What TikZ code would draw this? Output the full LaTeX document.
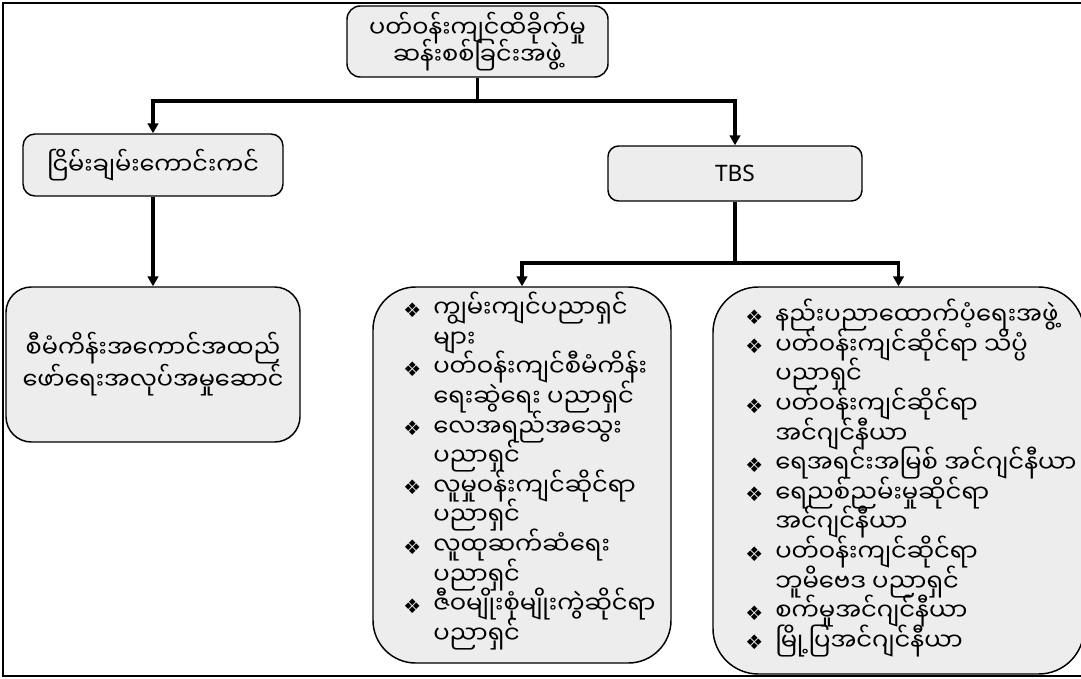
\documentclass[tikz,border=0pt]{standalone}
\usepackage{fontspec}
\usetikzlibrary{arrows.meta}
\setmainfont{Noto Sans}
\newfontfamily\mmfont[Script=Myanmar]{Noto Sans Myanmar UI}
\newfontfamily\symfont{DejaVu Sans}
\definecolor{boxfill}{RGB}{237,237,237}
% fixed baselines even where stacked glyphs are tall
\newcommand\tightlines{\lineskiplimit=-100pt\relax}
% bullet column and hanging indent for the lists
\newcommand\bul{\makebox[22.5pt][l]{\raisebox{0.3pt}{\symfont\fontsize{15}{15}\selectfont ❖}}}
\newcommand\ind{\hspace*{22.5pt}}
\begin{document}
\begin{tikzpicture}[x=0.75pt,y=-0.75pt,
  box/.style={draw=black,line width=1.1pt,fill=boxfill,inner sep=0pt,
    align=center,font=\mmfont\fontsize{18}{20.5}\selectfont\tightlines},
  frame/.style={draw=black,line width=1.1pt,fill=boxfill,inner sep=0pt},
  listtext/.style={inner sep=0pt,align=left,anchor=west,
    font=\mmfont\fontsize{18.2}{22.2}\selectfont\tightlines},
  conn/.style={line width=2.5pt},
  arr/.style={conn,-{Triangle[length=7.5pt,width=8pt]}}]
\useasboundingbox (0,0) rectangle (1081,678);
\clip (0,0) rectangle (1081,678);
% outer frame
\draw[line width=1.5pt] (3,3) rectangle (1095,676);

% boxes
\node[box,minimum width=261*0.75pt,minimum height=71*0.75pt,rounded corners=10pt]
  (eia) at (477.5,41.5) {ပတ်ဝန်းကျင်ထိခိုက်မှု\\ဆန်းစစ်ခြင်းအဖွဲ့};
\node[box,minimum width=260*0.75pt,minimum height=62*0.75pt,rounded corners=9pt]
  (sky) at (153,165) {ငြိမ်းချမ်းကောင်းကင်};
\node[box,minimum width=254*0.75pt,minimum height=55*0.75pt,rounded corners=8pt,
  font=\fontsize{17}{20}\selectfont]
  (tbs) at (735,173.5) {TBS};
\node[box,minimum width=294*0.75pt,minimum height=155*0.75pt,rounded corners=19pt,
  font=\mmfont\fontsize{18}{24}\selectfont\tightlines]
  (exec) at (153,364.5) {စီမံကိန်းအကောင်အထည်\\ဖော်ရေးအလုပ်အမှုဆောင်};

% list boxes and their texts
\node[frame,minimum width=298*0.75pt,minimum height=376*0.75pt,rounded corners=32pt]
  (experts) at (522,475) {};
\node[listtext] (expertslist) at (403,471) {%
\bul ကျွမ်းကျင်ပညာရှင်\\
\ind များ\\
\bul ပတ်ဝန်းကျင်စီမံကိန်း\\
\ind ရေးဆွဲရေး ပညာရှင်\\
\bul လေအရည်အသွေး\\
\ind ပညာရှင်\\
\bul လူမှုဝန်းကျင်ဆိုင်ရာ\\
\ind ပညာရှင်\\
\bul လူထုဆက်ဆံရေး\\
\ind ပညာရှင်\\
\bul ဇီဝမျိုးစုံမျိုးကွဲဆိုင်ရာ\\
\ind ပညာရှင်};
\node[frame,minimum width=371*0.75pt,minimum height=387*0.75pt,rounded corners=34pt]
  (tech) at (898.5,480.5) {};
\node[listtext] (techlist) at (745,478) {%
\bul နည်းပညာထောက်ပံ့ရေးအဖွဲ့\\
\bul ပတ်ဝန်းကျင်ဆိုင်ရာ သိပ္ပံ\\
\ind ပညာရှင်\\
\bul ပတ်ဝန်းကျင်ဆိုင်ရာ\\
\ind အင်ဂျင်နီယာ\\
\bul ရေအရင်းအမြစ် အင်ဂျင်နီယာ\\
\bul ရေညစ်ညမ်းမှုဆိုင်ရာ\\
\ind အင်ဂျင်နီယာ\\
\bul ပတ်ဝန်းကျင်ဆိုင်ရာ\\
\ind ဘူမိဗေဒ ပညာရှင်\\
\bul စက်မှုအင်ဂျင်နီယာ\\
\bul မြို့ပြအင်ဂျင်နီယာ};

% connectors
\coordinate (j1) at (477.5,101);
\coordinate (j2) at (735,263);
\draw[conn] (eia.south) -- (j1);
\draw[arr] (j1) -| (sky.north);
\draw[arr] (j1) -| (tbs.north);
\draw[arr] (sky.south) -- (sky.south |- exec.north);
\draw[conn] (tbs.south) -- (j2);
\draw[arr] (j2) -| (experts.north);
\draw[arr] (j2) -| (tech.north);
\end{tikzpicture}
\end{document}
